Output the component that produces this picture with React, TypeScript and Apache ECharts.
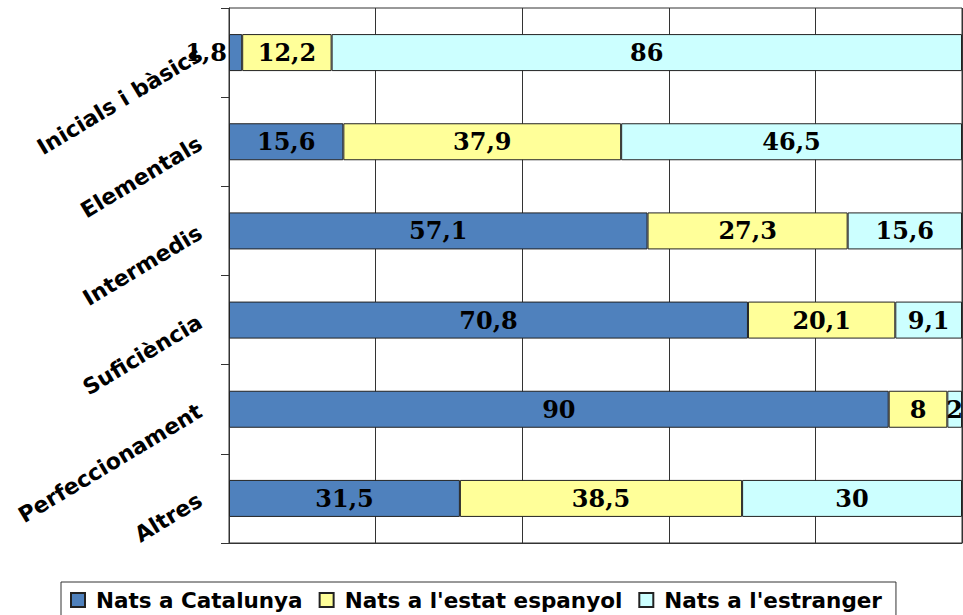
import React, { useEffect, useRef } from "react";
import * as echarts from "echarts";

const categories = [
  "Inicials i bàsics",
  "Elementals",
  "Intermedis",
  "Suficiència",
  "Perfeccionament",
  "Altres",
];
const seriesNames = ["Nats a Catalunya", "Nats a l'estat espanyol", "Nats a l'estranger"];
const natsCatalunya = [1.8, 15.6, 57.1, 70.8, 90, 31.5];
const natsEstat = [12.2, 37.9, 27.3, 20.1, 8, 38.5];
const natsEstranger = [86, 46.5, 15.6, 9.1, 2, 30];
const xTicks = [0, 20, 40, 60, 80, 100];

const colors = ["#4F81BD", "#FFFF99", "#CCFFFF"];

export default function App() {
  const ref = useRef<HTMLDivElement>(null);
  useEffect(() => {
    if (!ref.current) return;
    const chart = echarts.init(ref.current, null, { renderer: "svg" });
    const values = [natsCatalunya, natsEstat, natsEstranger];
    const labelStyle = {
      show: true,
      position: "inside",
      color: "#000",
      fontFamily: "DejaVu Serif",
      fontWeight: "bold",
      fontSize: 24,
      formatter: (p: any) => String(p.value).replace(".", ","),
    };
    chart.setOption({
      animation: false,
      backgroundColor: "#fff",
      grid: {
        left: 229,
        right: 1,
        top: 8,
        bottom: 72,
        show: true,
        borderColor: "#333",
        borderWidth: 1,
        containLabel: false,
      },
      legend: {
        left: 61,
        top: 582,
        itemWidth: 14,
        itemHeight: 14,
        itemGap: 16,
        padding: [7, 14, 8, 9],
        borderColor: "#333",
        borderWidth: 1,
        icon: "rect",
        textStyle: {
          fontFamily: "DejaVu Sans",
          fontWeight: "bold",
          fontSize: 21.5,
          color: "#000",
          padding: [0, 0, 0, 6],
        },
        data: seriesNames,
      },
      xAxis: {
        type: "value",
        min: xTicks[0],
        max: xTicks[xTicks.length - 1],
        interval: xTicks[1] - xTicks[0],
        axisLabel: { show: false },
        axisTick: { show: false },
        axisLine: { show: true, lineStyle: { color: "#333", width: 1 } },
        splitLine: { show: true, lineStyle: { color: "#333", width: 1 } },
      },
      yAxis: {
        type: "category",
        inverse: true,
        data: categories,
        axisLine: { show: true, lineStyle: { color: "#333", width: 1 } },
        axisTick: { show: true, length: 8, lineStyle: { color: "#333" } },
        axisLabel: {
          rotate: 31,
          margin: 29,
          fontFamily: "DejaVu Sans",
          fontWeight: "bold",
          fontSize: 22,
          color: "#000",
        },
      },
      series: seriesNames.map((name, si) => ({
        name,
        type: "bar",
        stack: "total",
        barWidth: 37,
        itemStyle: { color: colors[si], borderColor: "#222", borderWidth: 1 },
        label: labelStyle,
        data: values[si].map((v) =>
          si === 0 && v < 5
            ? { value: v, label: { position: "left", distance: 2 } }
            : v
        ),
      })),
    });
    return () => chart.dispose();
  }, []);
  return (
    <div
      ref={ref}
      style={{ position: "fixed", left: 0, top: 0, width: 963, height: 615 }}
    />
  );
}
